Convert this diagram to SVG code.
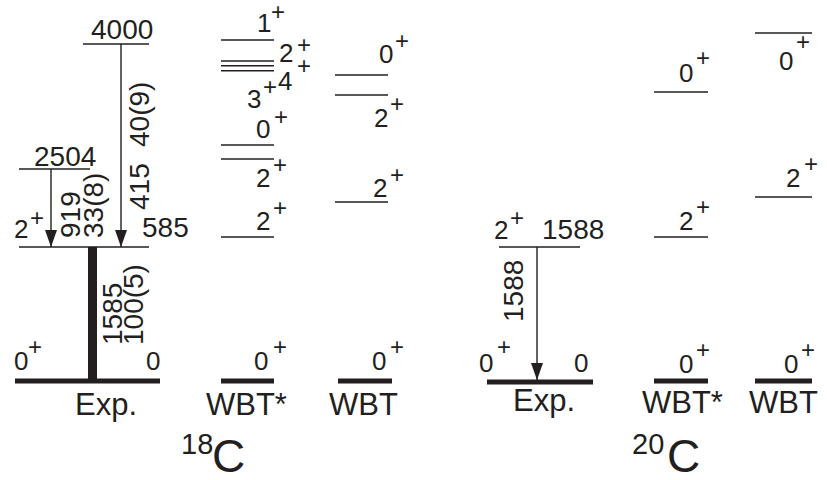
<svg xmlns="http://www.w3.org/2000/svg" width="827" height="480" viewBox="0 0 827 480">
<defs>
<style>
text{font-family:"Liberation Sans",Arial,sans-serif;fill:#231f20}
.n{font-size:28px}
.s{font-size:26px}
.p{font-size:24px;text-anchor:middle}
.l{font-size:31px}
.lv{stroke:#231f20;stroke-width:1.4;fill:none}
.gs{stroke:#231f20;stroke-width:5;fill:none}
.tr{stroke:#231f20;stroke-width:1.4;fill:none;marker-end:url(#ah)}
</style>
<marker id="ah" markerUnits="userSpaceOnUse" markerWidth="17" markerHeight="12" refX="17" refY="6" orient="auto">
<path d="M0,0 L17,6 L0,12 z" fill="#231f20"/>
</marker>
</defs>
<rect width="827" height="480" fill="#fff"/>

<!-- connectors -->
<g id="connectors">
<line class="tr" x1="51" y1="169" x2="51" y2="247"/>
<line class="tr" x1="121" y1="44" x2="121" y2="247"/>
<line x1="92.5" y1="247" x2="92.5" y2="381" stroke="#231f20" stroke-width="9"/>
<line class="tr" x1="537" y1="247" x2="537" y2="380"/>
<text class="n" transform="translate(80,238) rotate(-90)">919</text>
<text class="n" transform="translate(103,238) rotate(-90)">33(8)</text>
<text class="n" transform="translate(149,210) rotate(-90)">415</text>
<text class="n" transform="translate(149,147) rotate(-90)">40(9)</text>
<text class="n" transform="translate(122,345) rotate(-90)">1585</text>
<text class="n" transform="translate(143,345) rotate(-90)">100(5)</text>
<text class="n" transform="translate(523,322) rotate(-90)">1588</text>
</g>

<!-- 18C experiment -->
<g id="c18-exp">
<line class="lv" x1="83" y1="44" x2="149" y2="44"/>
<text class="n" x="91" y="39">4000</text>
<line class="lv" x1="19" y1="169" x2="90" y2="169"/>
<text class="n" x="34" y="166">2504</text>
<line class="lv" x1="19" y1="247" x2="149" y2="247"/>
<text class="s" x="14" y="238">2</text><text class="p" x="37" y="226">+</text>
<text class="n" x="142" y="237">585</text>
<line class="gs" x1="15" y1="381" x2="160" y2="381"/>
<text class="s" x="14" y="370">0</text><text class="p" x="35" y="355">+</text>
<text class="s" x="146" y="370">0</text>
<text class="l" x="75" y="415">Exp.</text>
</g>

<!-- 18C WBT* -->
<g id="c18-wbtstar">
<line class="lv" x1="221" y1="40" x2="274" y2="40"/>
<line class="lv" x1="221" y1="61" x2="274" y2="61"/>
<line class="lv" x1="221" y1="65.7" x2="274" y2="65.7"/>
<line class="lv" x1="221" y1="70.7" x2="274" y2="70.7"/>
<line class="lv" x1="221" y1="145" x2="274" y2="145"/>
<line class="lv" x1="221" y1="159" x2="274" y2="159"/>
<line class="lv" x1="221" y1="237" x2="274" y2="237"/>
<line class="gs" x1="221" y1="381" x2="274" y2="381"/>
<text class="s" x="257" y="32">1</text><text class="p" x="278" y="20">+</text>
<text class="s" x="279" y="62">2</text><text class="p" x="304" y="53">+</text>
<text class="s" x="278" y="90">4</text><text class="p" x="304" y="74">+</text>
<text class="s" x="247" y="108">3</text><text class="p" x="270" y="95">+</text>
<text class="s" x="256" y="138">0</text><text class="p" x="281" y="125">+</text>
<text class="s" x="256" y="187">2</text><text class="p" x="280" y="173">+</text>
<text class="s" x="256" y="230">2</text><text class="p" x="280" y="216">+</text>
<text class="s" x="254" y="370">0</text><text class="p" x="280" y="355">+</text>
<text class="l" x="206" y="415">WBT*</text>
</g>

<!-- 18C WBT -->
<g id="c18-wbt">
<line class="lv" x1="335" y1="75" x2="388" y2="75"/>
<line class="lv" x1="335" y1="95" x2="388" y2="95"/>
<line class="lv" x1="335" y1="202" x2="388" y2="202"/>
<line class="gs" x1="338" y1="381" x2="392" y2="381"/>
<text class="s" x="379" y="63">0</text><text class="p" x="402" y="49">+</text>
<text class="s" x="374" y="127">2</text><text class="p" x="397" y="112">+</text>
<text class="s" x="373" y="197">2</text><text class="p" x="397" y="183">+</text>
<text class="s" x="372" y="370">0</text><text class="p" x="397" y="355">+</text>
<text class="l" x="329" y="415">WBT</text>
</g>

<g id="c18-label">
<text x="181" y="454" font-size="29">18</text>
<text x="212" y="472" font-size="46">C</text>
</g>

<!-- 20C experiment -->
<g id="c20-exp">
<line class="lv" x1="499" y1="247" x2="580" y2="247"/>
<text class="s" x="494" y="239">2</text><text class="p" x="517" y="226">+</text>
<text class="n" x="542" y="239">1588</text>
<line class="gs" x1="487" y1="382" x2="593" y2="382"/>
<text class="s" x="479" y="372">0</text><text class="p" x="504" y="355">+</text>
<text class="s" x="574" y="372">0</text>
<text class="l" x="513" y="411">Exp.</text>
</g>

<!-- 20C WBT* -->
<g id="c20-wbtstar">
<line class="lv" x1="654" y1="92" x2="708" y2="92"/>
<line class="lv" x1="654" y1="237" x2="708" y2="237"/>
<line class="gs" x1="654" y1="381" x2="708" y2="381"/>
<text class="s" x="679" y="82">0</text><text class="p" x="703" y="66">+</text>
<text class="s" x="679" y="230">2</text><text class="p" x="703" y="215">+</text>
<text class="s" x="679" y="373">0</text><text class="p" x="703" y="358">+</text>
<text class="l" x="642" y="413">WBT*</text>
</g>

<!-- 20C WBT -->
<g id="c20-wbt">
<line class="lv" x1="755" y1="33" x2="812" y2="33"/>
<line class="lv" x1="755" y1="197" x2="812" y2="197"/>
<line class="gs" x1="755" y1="381" x2="812" y2="381"/>
<text class="s" x="779" y="70">0</text><text class="p" x="803" y="50">+</text>
<text class="s" x="786" y="187">2</text><text class="p" x="811" y="172">+</text>
<text class="s" x="784" y="373">0</text><text class="p" x="808" y="358">+</text>
<text class="l" x="749" y="413">WBT</text>
</g>

<g id="c20-label">
<text x="632" y="454" font-size="29">20</text>
<text x="667" y="472" font-size="46">C</text>
</g>
</svg>
